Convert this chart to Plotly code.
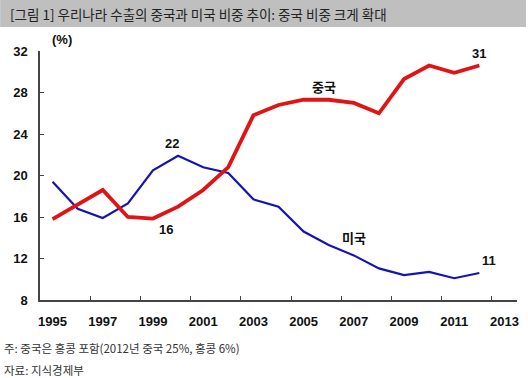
import plotly.graph_objects as go

years = list(range(1995, 2013))
china = [15.8, 17.2, 18.6, 16.0, 15.85, 17.0, 18.6, 20.8, 25.8, 26.8, 27.3, 27.3, 27.0, 26.0, 29.3, 30.6, 29.9, 30.6]
usa = [19.4, 16.8, 15.9, 17.3, 20.5, 21.9, 20.8, 20.25, 17.7, 17.0, 14.6, 13.3, 12.3, 11.05, 10.4, 10.7, 10.1, 10.6]
x_tick_labels = [str(y) for y in range(1995, 2014, 2)]
y_ticks = [8, 12, 16, 20, 24, 28, 32]

W, H = 528, 378
L, R, T, B = 40, 9, 51, 78
pw, ph = W - L - R, H - T - B

def px(x):
    return (x - L) / pw

def py(y):
    return 1 - (y - T) / ph

fig = go.Figure()
fig.add_trace(go.Scatter(x=years, y=usa, mode="lines",
                         line=dict(color="#1414b4", width=2.2), hoverinfo="skip"))
fig.add_trace(go.Scatter(x=years, y=china, mode="lines",
                         line=dict(color="#e01414", width=3.8), hoverinfo="skip"))

bold = dict(family="Liberation Sans, Arial", size=13, color="#111", weight="bold")
kfont = dict(family="Noto Sans CJK KR", size=13, color="#111", weight="bold")

ann = [
    dict(x=1999.75, y=22, text="22", xref="x", yref="y", yshift=11, font=bold),
    dict(x=1999.5, y=15.85, text="16", xref="x", yref="y", yshift=-11, font=bold),
    dict(x=2012, y=30.6, text="31", xref="x", yref="y", yshift=12, font=bold),
    dict(x=2012.4, y=10.6, text="11", xref="x", yref="y", yshift=13, font=bold),
    dict(x=2005.8, y=28.55, text="중국", xref="x", yref="y", font=kfont),
    dict(x=2007, y=14.0, text="미국", xref="x", yref="y", font=kfont),
    dict(x=px(62), y=py(40), text="(%)", xref="paper", yref="paper", font=bold),
    dict(x=px(8), y=py(14), text="[그림 1] 우리나라 수출의 중국과 미국 비중 추이: 중국 비중 크게 확대",
         xref="paper", yref="paper", xanchor="left",
         font=dict(family="Noto Sans CJK KR", size=13.5, color="#222")),
    dict(x=px(2), y=py(348), text="주: 중국은 홍콩 포함(2012년 중국 25%, 홍콩 6%)",
         xref="paper", yref="paper", xanchor="left",
         font=dict(family="Noto Sans CJK KR", size=11.5, color="#333")),
    dict(x=px(2), y=py(370), text="자료: 지식경제부",
         xref="paper", yref="paper", xanchor="left",
         font=dict(family="Noto Sans CJK KR", size=11.5, color="#333")),
]
for a in ann:
    a.setdefault("showarrow", False)
    a.setdefault("xanchor", "center")
    a.setdefault("yanchor", "middle")
    fig.add_annotation(**a)

fig.add_shape(type="rect", xref="paper", yref="paper",
              x0=px(0), x1=px(528), y0=py(27), y1=py(0),
              fillcolor="#bfbfbf", line=dict(width=0), layer="below")

fig.update_layout(
    width=W, height=H, margin=dict(l=L, r=R, t=T, b=B),
    paper_bgcolor="white", plot_bgcolor="white", showlegend=False,
    xaxis=dict(range=[1994.5, 2013.5], tickvals=list(range(1995, 2014, 2)),
               ticktext=x_tick_labels, ticks="", showgrid=False, zeroline=False,
               showline=True, linecolor="#444", linewidth=1.5,
               tickfont=bold, ticklabelstandoff=9,
               minor=dict(tickvals=[1996.5 + 2 * i for i in range(9)],
                          ticks="inside", ticklen=4, tickcolor="#444", showgrid=False)),
    yaxis=dict(range=[8, 32], tickvals=y_ticks, ticks="inside", ticklen=4,
               tickcolor="#444", showgrid=False, zeroline=False,
               showline=True, linecolor="#444", linewidth=1.5,
               tickfont=bold, ticklabelstandoff=8),
)

fig.write_html("out.html", config={"displayModeBar": False},
               post_script="document.body.style.margin='0';document.body.style.overflow='hidden';")
